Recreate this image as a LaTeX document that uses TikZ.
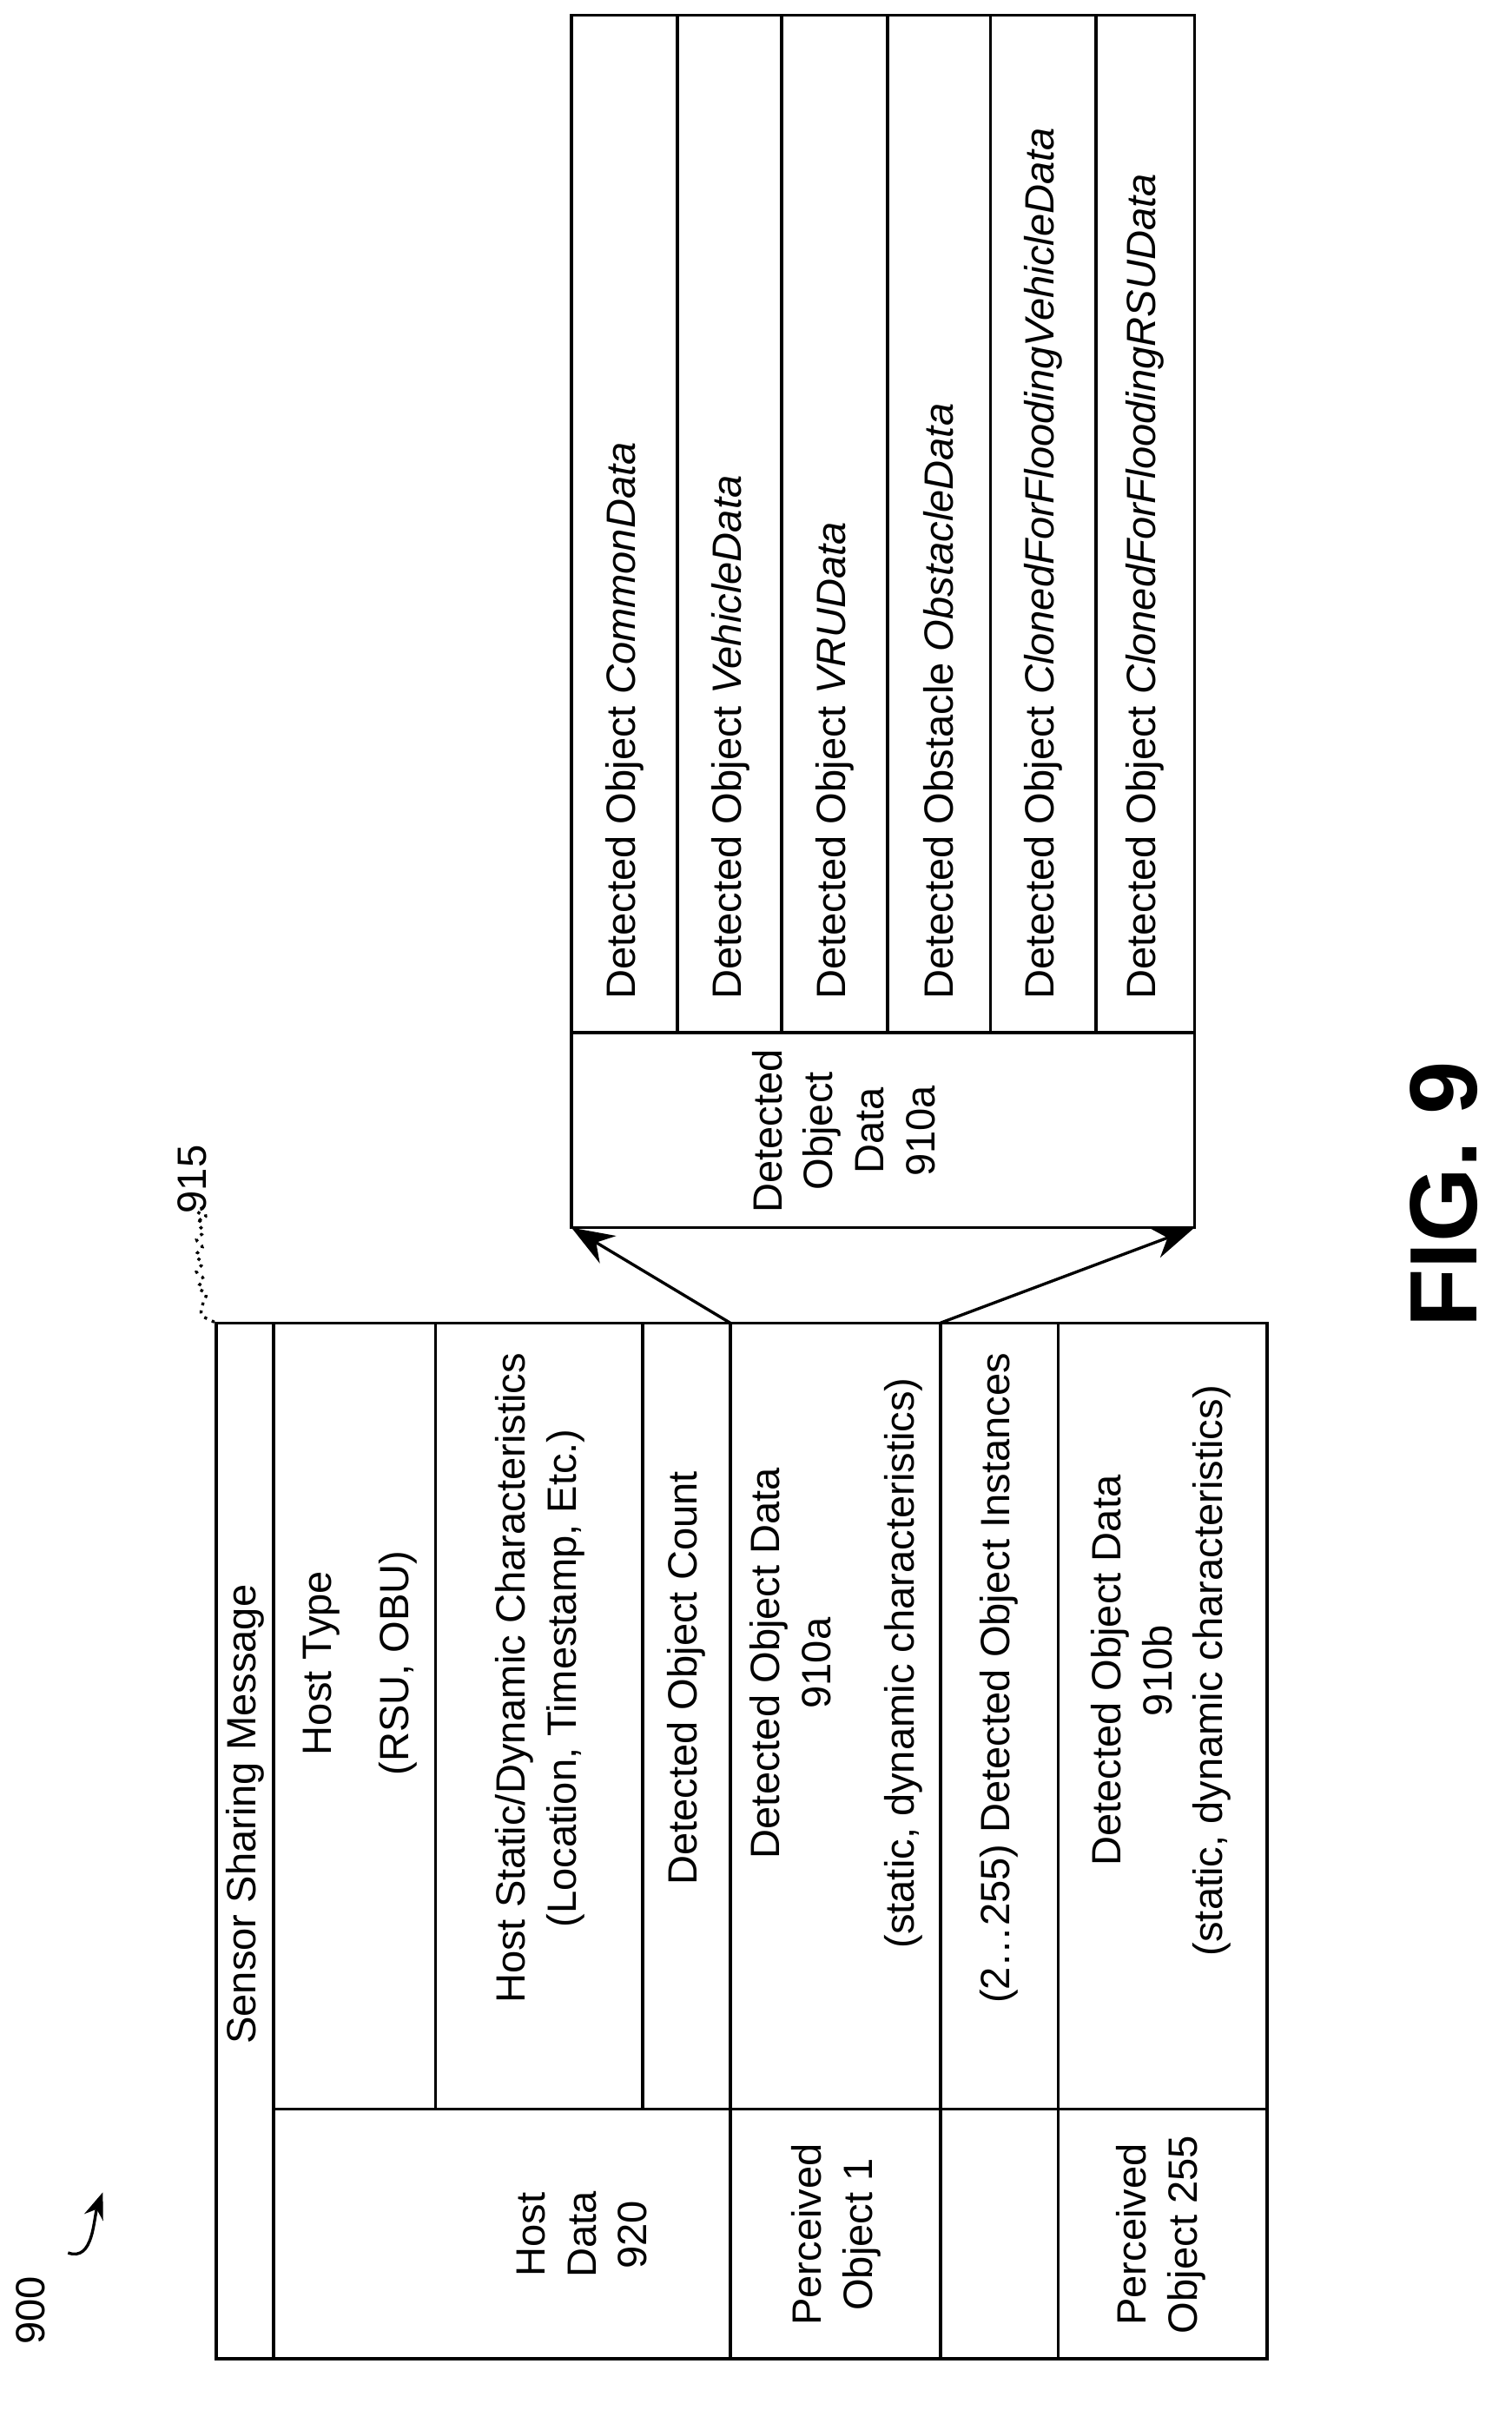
\documentclass[tikz,border=0pt]{standalone}
\usepackage{fontspec}
\setmainfont{Liberation Sans}
\usetikzlibrary{arrows.meta,decorations.pathmorphing}
\begin{document}
\begin{tikzpicture}
  [x=0.1mm,y=-0.1mm,line width=0.55pt,
   every node/.style={rotate=90,align=center,font=\fontsize{7.7}{9.6}\selectfont,inner sep=0pt},
   row/.style={anchor=west}]
  \useasboundingbox (0,0) rectangle (1000,1594);
  % left table
  \draw (143,875) rectangle (838,1560);
  \draw (181,875) -- (181,1560);
  \foreach \x in {288,425} \draw (\x,875) -- (\x,1395);
  \foreach \x in {483,622,700} \draw (\x,875) -- (\x,1560);
  \draw (181,1395) -- (838,1395);
  \node (ssm) at (162,1200) {Sensor Sharing Message};
  \node (htype) at (238,1100) {Host Type\\[5pt](RSU, OBU)};
  \node (hstat) at (357,1110) {Host Static/Dynamic Characteristics\\(Location, Timestamp, Etc.)};
  \node (count) at (454,1110) {Detected Object Count};
  \node (obj1) at (553,1100) {Detected Object Data\\910a\\[6pt](static, dynamic characteristics)};
  \node (inst) at (661,1110) {(2\ldots255) Detected Object Instances};
  \node (obj255) at (768,1105) {Detected Object Data\\910b\\(static, dynamic characteristics)};
  \node (hdata) at (385,1478) {Host\\Data\\920};
  \node (po1) at (553,1478) {Perceived\\Object 1};
  \node (po255) at (768,1478) {Perceived\\Object 255};
  % right table
  \draw (378,10) rectangle (790,812);
  \foreach \x in {448,517,587,655,725} \draw (\x,10) -- (\x,683);
  \draw (378,683) -- (790,683);
  \node (dod) at (558,748) {Detected\\Object\\Data\\910a};
  \node[row] (r1) at (413,662) {Detected Object \textit{CommonData}};
  \node[row] (r2) at (483,662) {Detected Object \textit{VehicleData}};
  \node[row] (r3) at (552,662) {Detected Object \textit{VRUData}};
  \node[row] (r4) at (621,662) {Detected Obstacle \textit{ObstacleData}};
  \node[row] (r5) at (690,662) {Detected Object \textit{ClonedForFloodingVehicleData}};
  \node[row] (r6) at (757,662) {Detected Object \textit{ClonedForFloodingRSUData}};
  % expansion
  \coordinate (a1) at (483,875);
  \coordinate (a2) at (622,875);
  \coordinate (b1) at (378,812);
  \coordinate (b2) at (790,812);
  \draw[-{Stealth[length=8pt,width=6pt]}] (a1) -- (b1);
  \draw[-{Stealth[length=8pt,width=6pt]}] (a2) -- (b2);
  % labels
  \node (l915) at (127,780) {915};
  \coordinate (t915) at (143,875);
  \draw[densely dotted,decorate,decoration={snake,amplitude=0.6pt,segment length=3pt}] (l915.west) ++(6,4) to[out=95,in=180] (t915);
  \node (l900) at (20,1528) {900};
  \coordinate (c900) at (45,1490);
  \coordinate (d900) at (68,1450);
  \draw[-{Stealth[length=5pt]}] (c900) to[out=-20,in=-110] (d900);
  \node[font=\fontsize{18}{20}\selectfont\bfseries] (fig) at (955,790) {FIG. 9};
\end{tikzpicture}
\end{document}
